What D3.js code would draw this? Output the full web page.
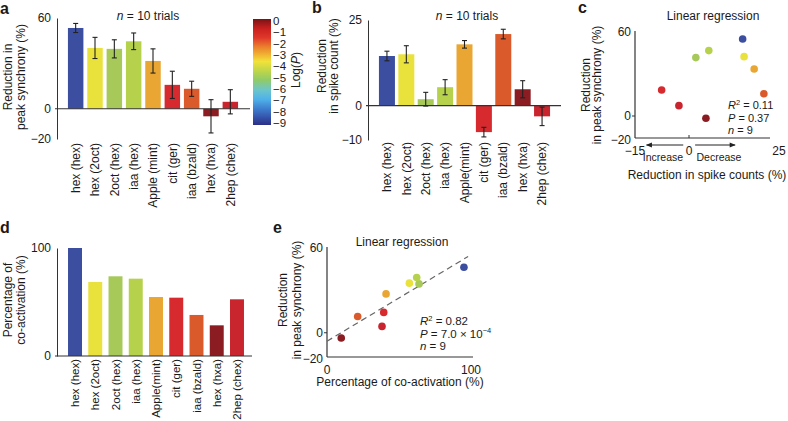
<!DOCTYPE html>
<html><head><meta charset="utf-8">
<script src="https://cdn.jsdelivr.net/npm/d3@7/dist/d3.min.js"></script>
<style>
body{margin:0;background:#fff;}
svg{display:block;font-family:"Liberation Sans",Arial,Helvetica,sans-serif;}
text{fill:#1a1a1a;}
</style></head>
<body>
<script>
// ---------- DATA ----------
const catsA = ["hex (hex)","hex (2oct)","2oct (hex)","iaa (hex)","Apple (mint)","cit (ger)","iaa (bzald)","hex (hxa)","2hep (chex)"];
const catsBD = ["hex (hex)","hex (2oct)","2oct (hex)","iaa (hex)","Apple(mint)","cit (ger)","iaa (bzald)","hex (hxa)","2hep (chex)"];
const odorColors = ["#3b4ea0","#e9e13c","#a7c95a","#b6d24c","#e9a632","#d62a2e","#da5a2b","#8b1d22","#c9252f"];

const syncVals = [53.4, 40.2, 39.6, 44.6, 31.6, 15.8, 13.2, -5.0, 4.6];
const syncErrs = [3.0, 7.0, 6.0, 5.5, 8.0, 9.0, 5.0, 11.0, 8.0];
const spikeVals = [14.5, 15.0, 1.9, 5.4, 17.9, -7.7, 20.9, 4.8, -3.1];
const spikeErrs = [1.4, 2.5, 2.0, 2.2, 1.1, 1.4, 1.4, 2.5, 2.7];
const coactVals = [100, 68.5, 73.8, 71.6, 54.6, 54.0, 38.0, 28.4, 52.5];

// panel c scatter (spike reduction, sync reduction)
const cX = [14.9, 15.3, 1.9, 5.5, 18.1, -7.6, 20.8, 4.7, -2.8];
const cY = [55.0, 42.4, 41.7, 46.7, 33.6, 18.6, 15.9, -1.6, 7.4];
// panel e scatter (co-activation, sync reduction)
const eX = [95.1, 57.2, 63.9, 62.3, 41.0, 39.4, 21.3, 9.9, 38.2];
const eY = [46.4, 35.1, 34.6, 39.1, 27.5, 14.4, 11.5, -3.7, 4.5];
const regX = [0, 98];
const regY = [-6, 54];

const ticksA = [-20, 0, 60];
const ticksB = [-10, 0, 25];
const ticksD = [0, 100];
const ticksCy = [-20, 0, 60];
const ticksCx = [-15, 0, 25];
const ticksEy = [-20, 0, 60];
const ticksEx = [0, 100];
const cbTicks = [0,-1,-2,-3,-4,-5,-6,-7,-8,-9];
const cbStops = [
  {v:0, c:"#7a1214"}, {v:-0.8, c:"#c9201f"}, {v:-1.6, c:"#e0382a"}, {v:-2.3, c:"#ea7a2c"},
  {v:-3.0, c:"#f1b133"}, {v:-3.6, c:"#f2e23a"}, {v:-4.5, c:"#b9d44c"}, {v:-5.2, c:"#8fcb6a"},
  {v:-6.0, c:"#6cc6c8"}, {v:-6.8, c:"#4fb2ea"}, {v:-7.6, c:"#3f7fcf"}, {v:-8.4, c:"#3450a8"}, {v:-9, c:"#2c2f86"}
];

// ---------- DRAW ----------
const W = 788, H = 421;
const svg = d3.select("body").append("svg").attr("width", W).attr("height", H);
svg.append("rect").attr("width", W).attr("height", H).attr("fill", "#fff");
const FS = 12;
const fmt = d => d < 0 ? "\u2212" + Math.abs(d) : String(d);
const AX = "#333";

function label(x, y, txt, opts = {}) {
  const t = svg.append("text").attr("x", x).attr("y", y).attr("font-size", opts.size || FS)
    .attr("text-anchor", opts.anchor || "start");
  if (opts.bold) t.attr("font-weight", "bold");
  t.text(txt);
  return t;
}
function rotLabel(x, y, txt, size) {
  return svg.append("text").attr("transform", `translate(${x},${y}) rotate(-90)`)
    .attr("text-anchor", "middle").attr("font-size", size || FS).text(txt);
}
function nTitle(x, y) {
  const t = svg.append("text").attr("x", x).attr("y", y).attr("text-anchor", "middle").attr("font-size", FS);
  t.append("tspan").attr("font-style", "italic").text("n");
  t.append("tspan").text(" = 10 trials");
}

function barPanel(cats, vals, errs, xr, pad, yDom, yRange, ticks, zeroExt, labelY, labelSize) {
  const x = d3.scaleBand().domain(cats).range(xr).paddingInner(pad).paddingOuter(0.1);
  const y = d3.scaleLinear().domain(yDom).range(yRange);
  const g = svg.append("g");
  const axisX = xr[0] - 9;
  g.append("g").attr("transform", `translate(${axisX},0)`)
    .call(d3.axisLeft(y).tickValues(ticks).tickSize(0).tickPadding(6).tickFormat(fmt))
    .call(s => { s.select(".domain").attr("stroke", AX);
      s.selectAll("text").attr("font-size", FS).attr("font-family", null).attr("fill", "#1a1a1a"); });
  g.selectAll("rect.bar").data(vals).join("rect").attr("class", "bar")
    .attr("x", (d, i) => x(cats[i])).attr("width", x.bandwidth())
    .attr("y", d => Math.min(y(d), y(0))).attr("height", d => Math.abs(y(d) - y(0)))
    .attr("fill", (d, i) => odorColors[i]);
  g.append("line").attr("x1", axisX - 2).attr("x2", zeroExt).attr("y1", y(0)).attr("y2", y(0))
    .attr("stroke", AX).attr("stroke-width", 1.2);
  if (errs) {
    const eg = g.selectAll("g.err").data(vals).join("g").attr("class", "err");
    eg.each(function (d, i) {
      const cx = x(cats[i]) + x.bandwidth() / 2;
      const s = d3.select(this);
      const y1 = y(d - errs[i]), y2 = y(d + errs[i]);
      s.append("line").attr("x1", cx).attr("x2", cx).attr("y1", y1).attr("y2", y2).attr("stroke", "#222").attr("stroke-width", 1.1);
      [y1, y2].forEach(yy => s.append("line").attr("x1", cx - 2.5).attr("x2", cx + 2.5).attr("y1", yy).attr("y2", yy).attr("stroke", "#222").attr("stroke-width", 1.1));
    });
  }
  cats.forEach((c, i) => {
    svg.append("text").attr("transform", `translate(${x(c) + x.bandwidth() / 2},${labelY}) rotate(-90)`)
      .attr("text-anchor", "end").attr("dy", "0.35em").attr("font-size", labelSize || FS).text(c);
  });
  return { x, y };
}

// ---- panel a ----
label(0, 14, "a", { bold: true, size: 16 });
barPanel(catsA, syncVals, syncErrs, [66, 240], 0.2, [-20, 60], [139, 18], ticksA, 250, 143);
nTitle(148, 20);
rotLabel(12, 77, "Reduction in");
rotLabel(24.5, 77, "peak synchrony (%)");

// colorbar
const defs = svg.append("defs");
const grad = defs.append("linearGradient").attr("id", "jet").attr("x1", 0).attr("x2", 0).attr("y1", 0).attr("y2", 1);
const cbScale = d3.scaleLinear().domain([0, -9]).range([0, 1]);
cbStops.forEach(s => grad.append("stop").attr("offset", cbScale(s.v)).attr("stop-color", s.c));
const cbY = d3.scaleLinear().domain([0, -9]).range([21, 123]);
svg.append("rect").attr("x", 253).attr("y", cbY(0) - 2).attr("width", 18).attr("height", cbY(-9) - cbY(0) + 4)
  .attr("fill", "url(#jet)");
cbTicks.forEach(t => {
  svg.append("text").attr("x", 273).attr("y", cbY(t)).attr("dy", "0.36em").attr("font-size", 11.5).text(fmt(t));
});
{
  const t = svg.append("text").attr("transform", "translate(300,70) rotate(-90)").attr("text-anchor", "middle").attr("font-size", FS);
  t.append("tspan").text("Log(");
  t.append("tspan").attr("font-style", "italic").text("P");
  t.append("tspan").text(")");
}

// ---- panel b ----
label(312, 13, "b", { bold: true, size: 16 });
barPanel(catsBD, spikeVals, spikeErrs, [377, 552], 0.175, [-10, 25], [140, 20], ticksB, 561, 142);
nTitle(467, 20);
rotLabel(326, 66, "Reduction");
rotLabel(338, 66, "in spike count (%)");

// ---- panel d ----
label(0, 233, "d", { bold: true, size: 16 });
barPanel(catsBD, coactVals, null, [66, 246], 0.31, [0, 100], [356, 248], ticksD, 252, 359, 11.5);
rotLabel(12, 300, "Percentage of");
rotLabel(25, 300, "co-activation (%)");

// ---- scatter helper ----
function scatterPanel(xs, ys, xDom, xRange, yDom, yRange, xTicks, yTicks, axY, axXEnd, yTop) {
  const x = d3.scaleLinear().domain(xDom).range(xRange);
  const y = d3.scaleLinear().domain(yDom).range(yRange);
  const x0 = xRange[0];
  svg.append("line").attr("x1", x0).attr("x2", x0).attr("y1", yTop).attr("y2", axY).attr("stroke", AX).attr("stroke-width", 1.2);
  svg.append("line").attr("x1", x0).attr("x2", axXEnd).attr("y1", axY).attr("y2", axY).attr("stroke", AX).attr("stroke-width", 1.2);
  svg.append("line").attr("x1", x0 - 3).attr("x2", x0).attr("y1", y(0)).attr("y2", y(0)).attr("stroke", AX);
  yTicks.forEach(t => {
    const yy = t === yDom[0] ? axY + 2 : y(t);
    svg.append("text").attr("x", x0 - 4).attr("y", yy).attr("dy", "0.36em").attr("text-anchor", "end").attr("font-size", FS).text(fmt(t));
  });
  xTicks.forEach(t => {
    svg.append("text").attr("x", x(t)).attr("y", axY + 8).attr("dy", "0.71em").attr("text-anchor", "middle").attr("font-size", FS).text(fmt(t));
  });
  return { x, y };
}
function drawPoints(sc, xs, ys) {
  svg.append("g").selectAll("circle").data(xs).join("circle")
    .attr("cx", d => sc.x(d)).attr("cy", (d, i) => sc.y(ys[i])).attr("r", 3.8)
    .attr("fill", (d, i) => odorColors[i]);
}

function stats(x, y0, r2, pParts, step, fs) {
  const t1 = svg.append("text").attr("x", x).attr("y", y0).attr("font-size", fs);
  t1.append("tspan").attr("font-style", "italic").text("R");
  t1.append("tspan").attr("font-size", 7.5).attr("dy", -4.5).text("2");
  t1.append("tspan").attr("dy", 4.5).text(r2);
  const t2 = svg.append("text").attr("x", x).attr("y", y0 + step).attr("font-size", fs);
  t2.append("tspan").attr("font-style", "italic").text("P");
  t2.append("tspan").text(pParts[0]);
  if (pParts[1]) {
    t2.append("tspan").attr("font-size", 7.5).attr("dy", -4.5).text(pParts[1]);
  }
  const t3 = svg.append("text").attr("x", x).attr("y", y0 + 2 * step).attr("font-size", fs);
  t3.append("tspan").attr("font-style", "italic").text("n");
  t3.append("tspan").text(" = 9");
}

// ---- panel c ----
label(578, 13, "c", { bold: true, size: 16 });
const sc = scatterPanel(cX, cY, [-15, 25], [635, 779], [-20, 60], [144, 32], ticksCx, ticksCy, 138, 770, 31);
drawPoints(sc, cX, cY);
svg.append("line").attr("x1", sc.x(0)).attr("x2", sc.x(0)).attr("y1", 138).attr("y2", 135).attr("stroke", AX);
label(713, 20, "Linear regression", { anchor: "middle" });
rotLabel(590, 85, "Reduction");
rotLabel(601, 85, "in peak synchrony (%)");
label(707, 179, "Reduction in spike counts (%)", { anchor: "middle" });
stats(728, 109, " = 0.11", [" = 0.37"], 12.6, 11);
defs.append("marker").attr("id", "arr").attr("viewBox", "0 0 10 10").attr("refX", 9).attr("refY", 5)
  .attr("markerWidth", 7).attr("markerHeight", 6).attr("orient", "auto-start-reverse")
  .append("path").attr("d", "M0,1 L10,5 L0,9 Z").attr("fill", "#222");
const arrows = [[-1.6, -11.8], [1.7, 12.8]];
arrows.forEach(a => svg.append("line").attr("x1", sc.x(a[0])).attr("x2", sc.x(a[1])).attr("y1", 145).attr("y2", 145)
  .attr("stroke", "#222").attr("stroke-width", 1).attr("marker-end", "url(#arr)"));
label(663, 161, "Increase", { anchor: "middle", size: 10.5 });
label(719, 161, "Decrease", { anchor: "middle", size: 10.5 });

// ---- panel e ----
label(273, 233, "e", { bold: true, size: 16 });
const se = scatterPanel(eX, eY, [0, 100], [327, 471], [-20, 60], [361, 248], ticksEx, ticksEy, 357, 473, 247);
svg.append("line").attr("x1", se.x(regX[0])).attr("x2", se.x(regX[1])).attr("y1", se.y(regY[0])).attr("y2", se.y(regY[1]))
  .attr("stroke", "#666").attr("stroke-width", 1.2).attr("stroke-dasharray", "6,4");
drawPoints(se, eX, eY);
label(402, 246, "Linear regression", { anchor: "middle" });
rotLabel(287, 300, "Reduction");
rotLabel(301, 300, "in peak synchrony (%)");
label(400, 386, "Percentage of co-activation (%)", { anchor: "middle" });
stats(420, 325, "  = 0.82", [" = 7.0 \u00d7 10", "\u22124"], 12.6, 11.5);
</script>
</body></html>
